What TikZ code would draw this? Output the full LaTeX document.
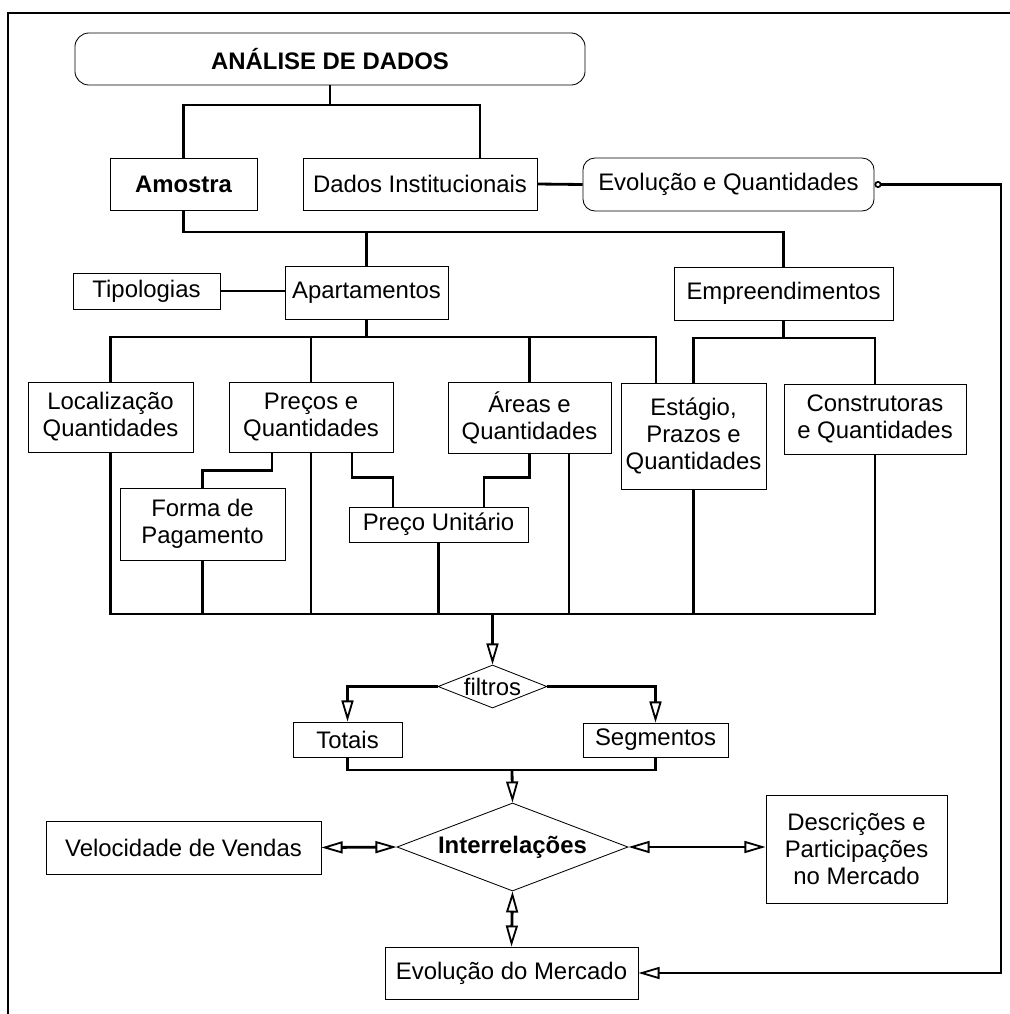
\documentclass[tikz,border=0pt]{standalone}
\usepackage{fontspec}
\setmainfont{Liberation Sans}
\usetikzlibrary{arrows.meta,positioning,shapes.geometric}

\begin{document}
\begin{tikzpicture}[x=0.025cm,y=-0.025cm,>={Triangle[open,length=15pt,width=8.5pt,line width=1.3pt]},font=\fontsize{17}{19.2}\selectfont]
\tikzstyle{b}=[draw,line width=0.6pt,inner sep=0pt,align=center]
\tikzstyle{ln}=[line width=2pt]
\useasboundingbox (0,0) rectangle (1010,1014);
\draw[line width=1.2pt] (1010,13) -- (8,13) -- (8,1014);
% top levels
\node[b,rounded corners=0.35cm,minimum width=12.75cm,minimum height=1.3cm] (an) at (330,59) {\bfseries ANÁLISE DE DADOS};
\node[b,rounded corners=0.3cm,minimum width=7.275cm,minimum height=1.325cm] (eq) at (728.5,184.5) {Evolução e Quantidades};
\foreach \i/\x/\y/\w/\h/\t in {am/183.5/184/3.675/1.3/{\bfseries Amostra},di/420/184/5.85/1.3/{Dados Institucionais},ti/146.5/291/3.675/0.9/{Tipologias},ap/366.5/292.5/4.075/1.325/{Apartamentos},em/783.5/293.5/5.475/1.325/{Empreendimentos}}
  \node[b,minimum width=\w cm,minimum height=\h cm] (\i) at (\x,\y) {\t};
% apartamentos / empreendimentos
\foreach \i/\x/\y/\w/\h/\t in {lo/110.5/417/4.125/1.75/{Localização\\Quantidades},pr/311/417/4.1/1.75/{Preços e\\Quantidades},ar/529.5/417.5/4.075/1.775/{Áreas e\\Quantidades},es/693.5/436/3.625/2.65/{Estágio,\\Prazos e\\Quantidades},co/875/419/4.55/1.75/{Construtoras\\e Quantidades},fp/202.5/524/4.125/1.8/{Forma de\\Pagamento},pu/438.5/524.5/4.475/0.875/{Preço Unitário}}
  \node[b,minimum width=\w cm,minimum height=\h cm] (\i) at (\x,\y) {\t};
% results
\node[b,diamond,aspect=2.5,minimum width=2.725cm,minimum height=1.075cm] (fi) at (492.5,686.5) {filtros};
\node[b,minimum width=2.725cm,minimum height=0.875cm] (tot) at (347.5,739.5) {Totais};
\node[b,minimum width=3.625cm,minimum height=0.85cm] (seg) at (655.5,740) {Segmentos};
\node[b,diamond,aspect=2.6,minimum width=5.775cm,minimum height=2.2cm] (ir) at (512.5,847) {\bfseries Interrelações};
\node[b,minimum width=6.875cm,minimum height=1.325cm] (ve) at (183.5,847.5) {Velocidade de Vendas};
\node[b,minimum width=4.525cm,minimum height=2.7cm] (de) at (856.5,849) {Descrições e\\Participações\\no Mercado};
\node[b,minimum width=6.325cm,minimum height=1.3cm] (ev) at (511.5,973) {Evolução do Mercado};
% connectors
\coordinate (j1) at (330,105);
\coordinate (j2) at (366.5,232);
\coordinate (j3) at (1001,973);
\draw[ln] (an.south) -- (j1);
\draw[ln] (am.north) |- (j1) -| ([xshift=1.5cm]di.north);
\draw[ln] (am.south) |- (j2) -| (em.north);
\draw[ln] (j2) -- (ap.north);
\draw[ln] (di.east) -- (eq.west);
\draw[ln] (ti.east) -- (ti.east -| ap.west);
\draw[ln,{Circle[open,length=5pt,line width=1.2pt]}->] (eq.east) -| (j3) -- (ev.east);
\coordinate (j4) at (366.5,337);
\coordinate (j5) at (656,337);
\coordinate (j6) at (783.5,338);
\draw[ln] (ap.south) -- (j4);
\draw[ln] (lo.north) |- (j5) -- (j5 |- es.north);
\foreach \n in {pr,ar} \draw[ln] (\n.north) -- (\n.north |- j4);
\draw[ln] (em.south) -- (j6);
\draw[ln] (es.north) |- (j6) -| (co.north);
\draw[ln] ([xshift=-0.975cm]pr.south) -- ++(0,18) -| (fp.north);
\draw[ln] ([xshift=1.025cm]pr.south) -- ++(0,25) -| ([xshift=-1.1375cm]pu.north);
\draw[ln] (ar.south) -- ++(0,24) -| ([xshift=1.1375cm]pu.north);
\coordinate (j7) at (492.5,614);
\draw[ln] (lo.south) |- (j7) -| (co.south);
\foreach \n in {fp,pr,pu,es} \draw[ln] (\n.south) -- (\n.south |- j7);
\draw[ln] ([xshift=0.9875cm]ar.south) -- ++(0,161);
\draw[ln,->] (j7) -- (fi.north);
\draw[ln,->] (fi.west) -| (tot.north);
\draw[ln,->] (fi.east) -| (seg.north);
\coordinate (j8) at (512,770);
\draw[ln] (tot.south) |- (j8) -| (seg.south);
\draw[ln,->] (j8) -- (ir.north);
\draw[ln,<->] (ve.east) -- (ir.west);
\draw[ln,<->] (ir.east) -- (ir.east -| de.west);
\draw[ln,<->] (ir.south) -- (ev.north);
\end{tikzpicture}
\end{document}
